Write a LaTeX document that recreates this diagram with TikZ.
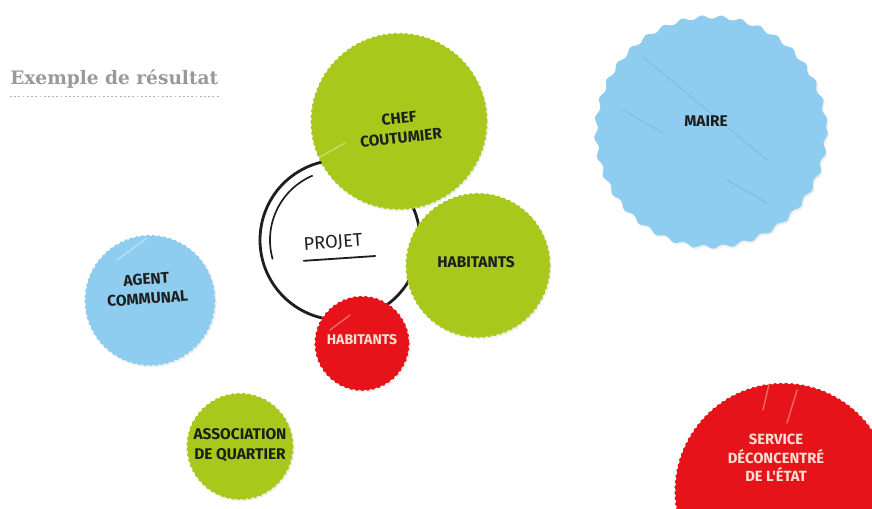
\documentclass[tikz,border=0pt]{standalone}
\usepackage{fontspec}
\usetikzlibrary{decorations.pathmorphing}
\newfontfamily\titre{DejaVu Serif}
\newfontfamily\lettre{Fira Sans}
\definecolor{vert}{RGB}{168,200,28}
\definecolor{bleu}{RGB}{143,205,240}
\definecolor{rouge}{RGB}{230,20,26}
\definecolor{encre}{RGB}{30,30,28}
\definecolor{craie}{RGB}{248,222,212}
\def\bulle[#1](#2)(#3){%
  \fill[decorate, #1, fill=black, opacity=0.07, xshift=1pt, yshift=-1.2pt] (#2) circle [radius=#3];
  \fill[decorate, #1] (#2) circle [radius=#3];}

\tikzset{
  frise/.style={decoration={snake, amplitude=0.5pt, segment length=4pt}},
  festons/.style={decoration={snake, amplitude=1.3pt, segment length=14pt}},
  etiquette/.style={font=\lettre\bfseries\fontsize{11}{14}\selectfont, align=center, text=encre},
  reflet/.style={white, opacity=0.35, line width=1pt, line cap=round},
  ombre/.style={bleu!75!black, opacity=0.22, line width=1.2pt, line cap=round}
}

\begin{document}
\begin{tikzpicture}[x=0.025cm, y=-0.025cm]
			%%%%% START %%%%%
			\useasboundingbox (0,0) rectangle (872,508);
			
			\node[font=\titre\bfseries\fontsize{13.2}{15}\selectfont, text=black!40, anchor=base west, inner sep=0pt] (titre) at (10,84) {Exemple de résultat};
			\draw[black!30, line width=1.3pt, dash pattern=on 1.3pt off 1.7pt] ([yshift=-6pt]titre.south west) -- ([yshift=-6pt]titre.south east);
			
			\draw[line width=2pt, encre] (340,240) circle [radius=80];
			\draw[line width=1.2pt, encre] (340,240) ++(164:70) arc [start angle=164, end angle=247, radius=70];
			
			\bulle[vert, frise](399,120)(88)
			\bulle[vert, frise](478,264)(72)
			\bulle[rouge, frise](362,342)(47)
			\bulle[bleu, festons](711,127)(115)
			\bulle[bleu, frise](150,299)(65)
			\bulle[vert, frise](240,445)(53)
			\bulle[rouge, frise](783,490)(108)
			
			\draw[ombre] (643,57) -- (767,160);
			\draw[ombre] (623,110) -- (663,133);
			\draw[ombre] (727,180) -- (767,203);
			\draw[reflet] (318,158) -- (345,143);
			\draw[reflet] (117,260) -- (147,238);
			\draw[reflet] (330,330) -- (350,315);
			\draw[reflet] (770,380) -- (763,410);
			\draw[reflet] (797,390) -- (787,423);
			
			\node[etiquette, rotate=6] (chef) at (400,128) {CHEF\\COUTUMIER};
			\node[etiquette] (maire) at (706,121) {MAIRE};
			\node[etiquette] (habitants) at (476,262) {HABITANTS};
			\node[etiquette, rotate=4] (agent) at (147,289) {AGENT\\COMMUNAL};
			\node[etiquette, text=craie, font=\lettre\bfseries\fontsize{10}{12}\selectfont] (habitantsrouges) at (362,340) {HABITANTS};
			\node[etiquette] (association) at (240,445) {ASSOCIATION\\DE QUARTIER};
			\node[etiquette, text=craie, font=\lettre\bfseries\fontsize{10.5}{13}\selectfont] (service) at (776,458) {SERVICE\\DÉCONCENTRÉ\\DE L'ÉTAT};
			
			\node[font=\lettre\fontsize{13}{15}\selectfont, text=encre, rotate=4] (projet) at (333,243) {PROJET};
			\draw[encre, line width=1.3pt, line cap=round] ([xshift=3pt, yshift=-2pt]projet.south west) -- ([xshift=5pt, yshift=-2pt]projet.south east);
			
			%%%%% END %%%%%
		\end{tikzpicture}
\end{document}
